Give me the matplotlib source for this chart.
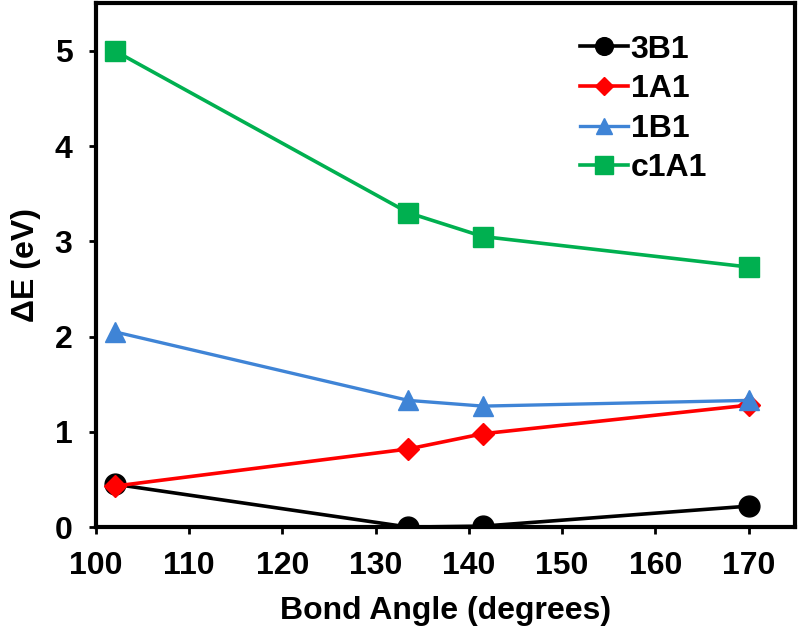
import matplotlib
matplotlib.use("Agg")
import matplotlib.pyplot as plt

plt.rcParams['font.family'] = ['Liberation Sans', 'DejaVu Sans']
plt.rcParams['font.weight'] = 'bold'

angles = [102, 133.5, 141.5, 170]
e_3b1 = [0.45, 0.0, 0.01, 0.22]
e_1a1 = [0.43, 0.82, 0.98, 1.28]
e_1b1 = [2.05, 1.33, 1.27, 1.33]
e_c1a1 = [5.0, 3.30, 3.05, 2.73]

fig = plt.figure(figsize=(8, 6.32), dpi=100)
ax = fig.add_axes([0.12, 0.166, 0.874, 0.829])

ax.plot(angles, e_3b1, color='black', marker='o', ms=15, lw=2.6, label='3B1', zorder=3)
ax.plot(angles, e_1a1, color='#ff0000', marker='D', ms=11, lw=2.6, label='1A1', zorder=4)
ax.plot(angles, e_1b1, color='#3f84d6', marker='^', ms=14, lw=2.4, label='1B1', zorder=5)
ax.plot(angles, e_c1a1, color='#00b050', marker='s', ms=15, lw=2.6, label='c1A1', zorder=6)

ax.set_xlim(100, 175)
ax.set_ylim(0, 5.5)
ax.set_xticks([100, 110, 120, 130, 140, 150, 160, 170])
ax.set_yticks([0, 1, 2, 3, 4, 5])
ax.tick_params(labelsize=23, width=2, length=5, direction='out', pad=12)
for s in ax.spines.values():
    s.set_linewidth(3)
for t in ax.get_xticklabels() + ax.get_yticklabels():
    t.set_fontweight('bold')

ax.set_xlabel('Bond Angle (degrees)', fontsize=23, fontweight='bold', labelpad=11)
ax.set_ylabel('ΔE (eV)', fontsize=23, fontweight='bold', labelpad=10)

ax.legend(loc='upper right', bbox_to_anchor=(0.874, 0.94), frameon=False,
          fontsize=23, handlelength=1.5, handletextpad=0.1, labelspacing=0.3,
          borderaxespad=0, borderpad=0, markerscale=0.85)

fig.savefig('out.png', dpi=100)
